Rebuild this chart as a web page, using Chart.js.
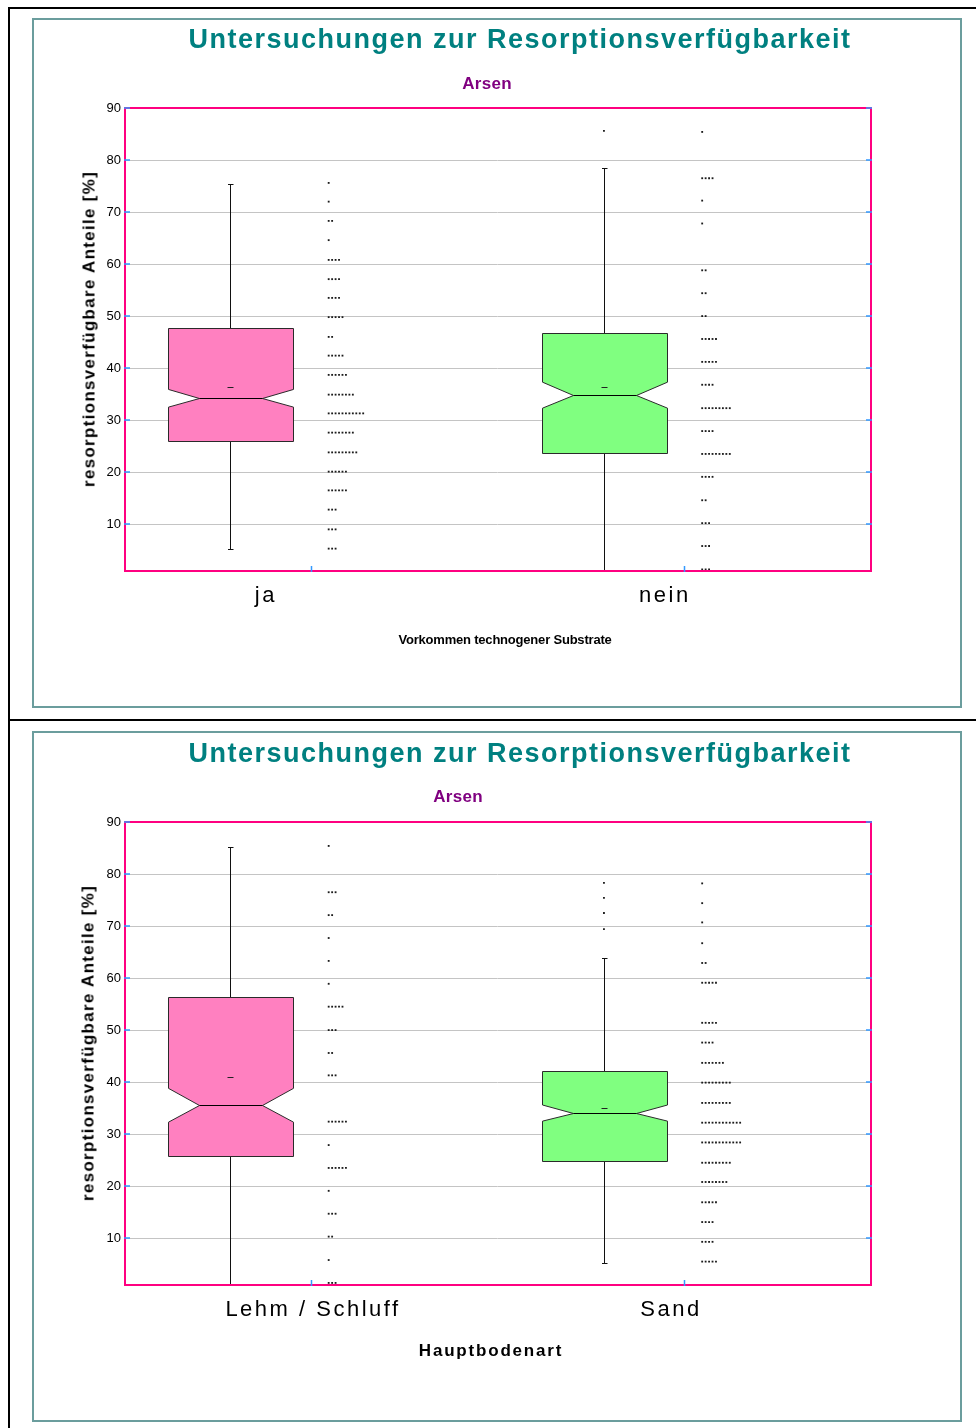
<!DOCTYPE html>
<html lang="de">
<head>
<meta charset="utf-8">
<title>Untersuchungen zur Resorptionsverfügbarkeit – Arsen</title>
<script src="https://cdn.jsdelivr.net/npm/chart.js@4.4.1/dist/chart.umd.min.js"></script>
<style>
  html, body { margin: 0; padding: 0; background: #fff; }
  body { width: 976px; height: 1428px; position: relative; overflow: hidden;
         font-family: "Liberation Sans", Arial, Helvetica, sans-serif; }
  .rule  { position: absolute; background: #000; }
  .frame { position: absolute; border: 2px solid #6b9d9d; box-sizing: border-box; }
  .panel { position: absolute; left: 0; width: 976px; height: 714px; }
  .panel canvas { position: absolute; left: 0; top: 0; }
  .txt { position: absolute; white-space: nowrap; transform: translate(-50%, -50%); line-height: 1; }
  .title    { color: #008080; font-weight: bold; font-size: 27px; letter-spacing: 1.5px; }
  .subtitle { color: #800080; font-weight: bold; font-size: 17px; letter-spacing: 0.3px; }
  .ytitle   { color: #000; font-weight: bold; font-size: 17px; letter-spacing: 1.3px;
              transform: translate(-50%, -50%) rotate(-90deg); }
  .xtitle-small { color: #000; font-weight: bold; font-size: 13px; letter-spacing: -0.2px; }
  .xtitle-large { color: #000; font-weight: bold; font-size: 17px; letter-spacing: 1.8px; }
</style>
</head>
<body>

<!-- page rules -->
<div class="rule" style="left:8px; top:7px; width:2px; height:1421px;"></div>
<div class="rule" style="left:8px; top:7px; width:968px; height:2px;"></div>
<div class="rule" style="left:8px; top:719px; width:968px; height:2px;"></div>

<!-- panel 1 -->
<div class="panel" style="top:0;">
  <div class="frame" style="left:32px; top:18px; width:930px; height:690px;"></div>
  <canvas id="chartSubstrate" width="976" height="714"></canvas>
  <div class="txt title" style="left:520px; top:39px;">Untersuchungen zur Resorptionsverfügbarkeit</div>
  <div class="txt subtitle" style="left:487px; top:83px;">Arsen</div>
  <div class="txt ytitle" style="left:89px; top:329px;">resorptionsverfügbare Anteile [%]</div>
  <div class="txt xtitle-small" style="left:505px; top:639px;">Vorkommen technogener Substrate</div>
</div>

<!-- panel 2 -->
<div class="panel" style="top:714px;">
  <div class="frame" style="left:32px; top:17px; width:930px; height:691px;"></div>
  <canvas id="chartSoil" width="976" height="714"></canvas>
  <div class="txt title" style="left:520px; top:39px;">Untersuchungen zur Resorptionsverfügbarkeit</div>
  <div class="txt subtitle" style="left:458px; top:82px;">Arsen</div>
  <div class="txt ytitle" style="left:88px; top:329px;">resorptionsverfügbare Anteile [%]</div>
  <div class="txt xtitle-large" style="left:491px; top:636px;">Hauptbodenart</div>
</div>

<script>
// ---------- shared axis ----------
const yTicks = [10, 20, 30, 40, 50, 60, 70, 80, 90];
const yMin = 1;
const yMax = 90;

// ---------- panel 1: Vorkommen technogener Substrate ----------
const substrateCategories = ['ja', 'nein'];
const substrateQ1          = [26.0, 23.6];
const substrateMedian      = [34.2, 34.8];
const substrateQ3          = [47.8, 46.8];
const substrateNotchLow    = [32.5, 32.3];
const substrateNotchHigh   = [35.9, 37.3];
const substrateMean        = [36.4, 36.4];
const substrateWhiskerLow  = [5.2, 1.2];
const substrateWhiskerHigh = [75.4, 78.5];
const substrateOutliers    = [[], [85.6]];

// dot histogram, one row per class: class value and number of samples
const jaBins     = [75.6, 72.0, 68.3, 64.6, 60.8, 57.1, 53.5, 49.8, 46.0, 42.4, 38.7, 34.9, 31.3, 27.6, 23.8, 20.1, 16.5, 12.8, 9.0, 5.3];
const jaCounts   = [1, 1, 2, 1, 4, 4, 4, 5, 2, 5, 6, 8, 11, 8, 9, 6, 6, 3, 3, 3];
const neinBins   = [85.4, 76.5, 72.2, 67.8, 58.8, 54.4, 50.0, 45.6, 41.2, 36.8, 32.3, 27.9, 23.5, 19.1, 14.6, 10.2, 5.8, 1.3];
const neinCounts = [1, 4, 1, 1, 2, 2, 2, 5, 5, 4, 9, 4, 9, 4, 2, 3, 3, 3];

// ---------- panel 2: Hauptbodenart ----------
const soilCategories   = ['Lehm / Schluff', 'Sand'];
const soilQ1           = [25.8, 24.8];
const soilMedian       = [35.6, 34.0];
const soilQ3           = [56.3, 42.1];
const soilNotchLow     = [32.3, 32.5];
const soilNotchHigh    = [38.8, 35.6];
const soilMean         = [41.0, 35.0];
const soilWhiskerLow   = [1.2, 5.2];
const soilWhiskerHigh  = [85.2, 63.8];
const soilOutliers     = [[], [78.3, 75.4, 72.5, 69.4]];

const lehmBins   = [85.4, 76.5, 72.1, 67.7, 63.3, 58.9, 54.5, 50.0, 45.6, 41.3, 32.4, 27.9, 23.5, 19.1, 14.7, 10.3, 5.8, 1.4];
const lehmCounts = [1, 3, 2, 1, 1, 1, 5, 3, 2, 3, 6, 1, 6, 1, 3, 2, 1, 3];
const sandBins   = [78.2, 74.4, 70.7, 66.7, 62.9, 59.1, 51.4, 47.6, 43.7, 39.9, 36.0, 32.2, 28.4, 24.5, 20.8, 16.9, 13.1, 9.3, 5.5];
const sandCounts = [1, 1, 1, 1, 2, 5, 5, 4, 7, 9, 9, 12, 12, 9, 8, 5, 4, 4, 5];

// ---------- layout / style (x axis runs 0..2, one unit per category) ----------
const BOX_CENTER = 0.285;      // box position inside a category slot
const BOX_HALF = 0.166;        // half box width, x units
const NOTCH_DEPTH = 0.5;       // notch inset as share of half width
const DOT_START = 0.548;       // first dot of the histogram row
const DOT_STEP = 0.00924;      // spacing between dots in a row
const FONT = '"Liberation Sans", Arial, Helvetica, sans-serif';
const PINK = '#ff0080';
const TICK_BLUE = '#3399ff';

function histogramPoints(bins, counts, slot) {
  const pts = [];
  bins.forEach((v, r) => {
    for (let k = 0; k < counts[r]; k++) pts.push({ x: slot + DOT_START + k * DOT_STEP, y: v });
  });
  return pts;
}

function outlierPoints(outliers) {
  const pts = [];
  outliers.forEach((list, slot) => list.forEach(v => pts.push({ x: slot + BOX_CENTER, y: v })));
  return pts;
}

function crisp(v) { return Math.round(v) + 0.5; }

function makeBoxPlugin(stats) {
  return {
    id: 'notchedBoxes',
    afterDatasetsDraw(chart) {
      const { ctx, scales: { x, y } } = chart;
      ctx.save();
      ctx.lineWidth = 1;
      stats.q1.forEach((q1, i) => {
        const cx = crisp(x.getPixelForValue(i + BOX_CENTER));
        const half = x.getPixelForValue(i + BOX_CENTER + BOX_HALF) - x.getPixelForValue(i + BOX_CENTER);
        const L = crisp(cx - half), R = crisp(cx + half);
        const inset = half * NOTCH_DEPTH;
        const yQ1 = crisp(y.getPixelForValue(q1));
        const yQ3 = crisp(y.getPixelForValue(stats.q3[i]));
        const yMed = crisp(y.getPixelForValue(stats.median[i]));
        const yNl = y.getPixelForValue(stats.notchLow[i]);
        const yNh = y.getPixelForValue(stats.notchHigh[i]);
        const yWl = crisp(y.getPixelForValue(stats.whiskerLow[i]));
        const yWh = crisp(y.getPixelForValue(stats.whiskerHigh[i]));
        const yMean = crisp(y.getPixelForValue(stats.mean[i]));

        // whiskers with caps
        ctx.strokeStyle = '#111';
        ctx.beginPath();
        ctx.moveTo(cx, yQ3); ctx.lineTo(cx, yWh);
        ctx.moveTo(cx - 2.5, yWh); ctx.lineTo(cx + 3, yWh);
        ctx.moveTo(cx, yQ1); ctx.lineTo(cx, yWl);
        ctx.moveTo(cx - 2.5, yWl); ctx.lineTo(cx + 3, yWl);
        ctx.stroke();

        // notched box
        ctx.beginPath();
        ctx.moveTo(L, yQ3);
        ctx.lineTo(R, yQ3);
        ctx.lineTo(R, yNh);
        ctx.lineTo(R - inset, yMed);
        ctx.lineTo(R, yNl);
        ctx.lineTo(R, yQ1);
        ctx.lineTo(L, yQ1);
        ctx.lineTo(L, yNl);
        ctx.lineTo(L + inset, yMed);
        ctx.lineTo(L, yNh);
        ctx.closePath();
        ctx.fillStyle = stats.colors[i];
        ctx.fill();
        ctx.strokeStyle = '#2a2a2a';
        ctx.stroke();

        // median
        ctx.strokeStyle = '#000';
        ctx.beginPath();
        ctx.moveTo(L + inset, yMed); ctx.lineTo(R - inset, yMed);
        ctx.stroke();

        // mean
        ctx.strokeStyle = '#222';
        ctx.beginPath();
        ctx.moveTo(cx - 3, yMean); ctx.lineTo(cx + 3, yMean);
        ctx.stroke();
      });
      ctx.restore();
    },
    afterDraw(chart) {
      const { ctx, chartArea: a, scales: { x, y } } = chart;
      ctx.save();
      // plot frame
      ctx.strokeStyle = PINK;
      ctx.lineWidth = 2;
      ctx.strokeRect(a.left + 1, a.top, a.right - a.left - 1, a.bottom - a.top);
      // inner tick marks
      ctx.strokeStyle = TICK_BLUE;
      ctx.lineWidth = 1.5;
      ctx.beginPath();
      yTicks.forEach(v => {
        const py = Math.round(y.getPixelForValue(v));
        ctx.moveTo(a.left, py); ctx.lineTo(a.left + 6, py);
        ctx.moveTo(a.right - 5, py); ctx.lineTo(a.right + 1, py);
      });
      stats.categories.forEach((c, i) => {
        const px = crisp(x.getPixelForValue(i + 0.5));
        ctx.moveTo(px, a.bottom - 5); ctx.lineTo(px, a.bottom + 1);
      });
      ctx.stroke();
      // category labels
      ctx.fillStyle = '#000';
      ctx.font = '22px ' + FONT;
      ctx.letterSpacing = '2.5px';
      ctx.textAlign = 'center';
      ctx.textBaseline = 'alphabetic';
      stats.categories.forEach((c, i) => {
        ctx.fillText(c, x.getPixelForValue(stats.labelAt[i]), a.bottom + 31);
      });
      ctx.restore();
    }
  };
}

function buildPanel(canvasId, stats, dotSets) {
  const datasets = dotSets.map(pts => ({
    data: pts,
    pointStyle: 'rect',
    pointRadius: 1.3,
    pointHoverRadius: 1.3,
    backgroundColor: '#1c1c1c',
    borderWidth: 0,
    showLine: false
  }));
  return new Chart(document.getElementById(canvasId), {
    type: 'scatter',
    data: { datasets },
    options: {
      responsive: false,
      animation: false,
      events: [],
      layout: { padding: { left: 64, top: 108, right: 105, bottom: 103 } },
      plugins: { legend: { display: false }, tooltip: { enabled: false } },
      scales: {
        x: {
          type: 'linear', min: 0, max: 2,
          grid: { display: false, drawTicks: false },
          border: { display: false },
          ticks: { display: false },
          afterFit: s => { s.height = 40; }
        },
        y: {
          type: 'linear', min: yMin, max: yMax,
          afterBuildTicks: s => { s.ticks = yTicks.map(v => ({ value: v })); },
          grid: { color: '#c4c4c4', lineWidth: 1, drawTicks: false },
          border: { display: false },
          ticks: { color: '#000', padding: 3, font: { family: FONT, size: 13 } },
          afterFit: s => { s.width = 60; }
        }
      }
    },
    plugins: [makeBoxPlugin(stats)]
  });
}

buildPanel('chartSubstrate', {
  categories: substrateCategories,
  labelAt: [0.38, 1.448],
  colors: ['#ff80c0', '#80ff80'],
  q1: substrateQ1, median: substrateMedian, q3: substrateQ3,
  notchLow: substrateNotchLow, notchHigh: substrateNotchHigh, mean: substrateMean,
  whiskerLow: substrateWhiskerLow, whiskerHigh: substrateWhiskerHigh
}, [
  histogramPoints(jaBins, jaCounts, 0),
  histogramPoints(neinBins, neinCounts, 1),
  outlierPoints(substrateOutliers)
]);

buildPanel('chartSoil', {
  categories: soilCategories,
  labelAt: [0.506, 1.4645],
  colors: ['#ff80c0', '#80ff80'],
  q1: soilQ1, median: soilMedian, q3: soilQ3,
  notchLow: soilNotchLow, notchHigh: soilNotchHigh, mean: soilMean,
  whiskerLow: soilWhiskerLow, whiskerHigh: soilWhiskerHigh
}, [
  histogramPoints(lehmBins, lehmCounts, 0),
  histogramPoints(sandBins, sandCounts, 1),
  outlierPoints(soilOutliers)
]);
</script>
</body>
</html>
